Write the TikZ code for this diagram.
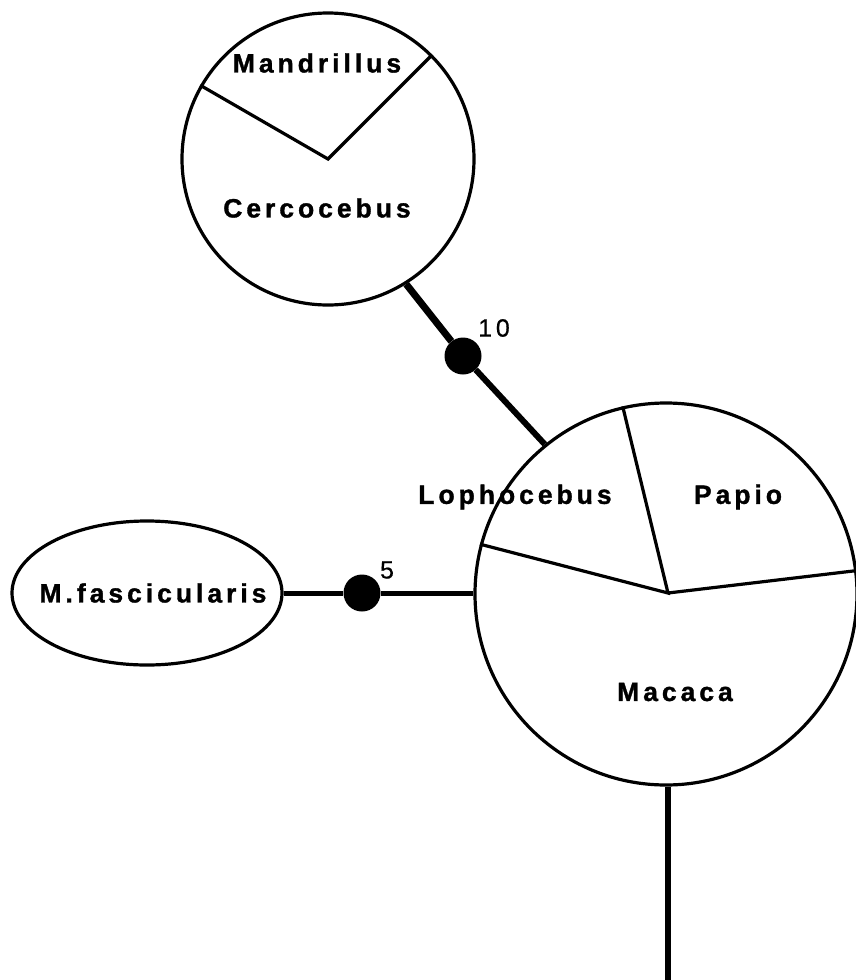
\documentclass[tikz,border=0pt]{standalone}
\usepackage{fontspec}
\setmainfont{Liberation Sans}
\newfontfamily\labfont[LetterSpace=15,FakeBold=1.2]{Liberation Sans Bold}
\newfontfamily\numfont[LetterSpace=15,FakeBold=0.5]{Liberation Sans}
\usetikzlibrary{shapes.geometric}
\begin{document}
\begin{tikzpicture}[x=1pt,y=-1pt,
  outline/.style={draw=black,line width=3.2pt},
  divider/.style={line width=3.2pt},
  taxon/.style={font=\labfont\fontsize{26.5}{30}\selectfont,inner sep=0pt},
  numlab/.style={font=\numfont\fontsize{25}{29}\selectfont,inner sep=0pt},
  branch/.style={line width=6pt},
  knot/.style={circle,fill=black,minimum size=37pt,inner sep=0pt}]
\useasboundingbox (0,0) rectangle (856,980);
% upper circle
\node[circle,outline,minimum size=292pt,inner sep=0pt] (top) at (328,159) {};
\draw[divider] (top.150) -- (top.center) -- (top.45);
\node[taxon] (mand) at (317,63) {Mandrillus};
\node[taxon] (cerc) at (317,208) {Cercocebus};
% big circle
\node[circle,outline,minimum size=382pt,inner sep=0pt] (big) at (666,594) {};
\coordinate (pie) at (668,593);
\draw[divider] (big.103.7) -- (pie) -- (big.165.7);
\draw[divider] (pie) -- (big.7.2);
\node[taxon] (loph) at (515,497) {Lophocebus};
\node[taxon] (papio) at (738,497) {Papio};
\node[taxon] (mac) at (675,692) {Macaca};
% ellipse
\node[ellipse,outline,minimum width=270pt,minimum height=144pt,inner sep=0pt] (fasc) at (147,593) {};
\node[taxon] (fasclab) at (153,593) {M.fascicularis};
% connectors
\node[knot] (k1) at (463,356) {};
\node[numlab] (n10) at (494,328) {10};
\draw[line width=7pt] (top.-58.8) -- (k1);
\draw[branch] (k1) -- (big.129.5);
\node[knot] (k2) at (362,593) {};
\node[numlab] (n5) at (387,570) {5};
\draw[line width=5pt] (fasc.east) -- (k2) -- (big.west |- k2);
\coordinate (bot) at (668,980);
\draw[line width=6pt] (bot |- big.south) -- (bot);
\end{tikzpicture}
\end{document}
